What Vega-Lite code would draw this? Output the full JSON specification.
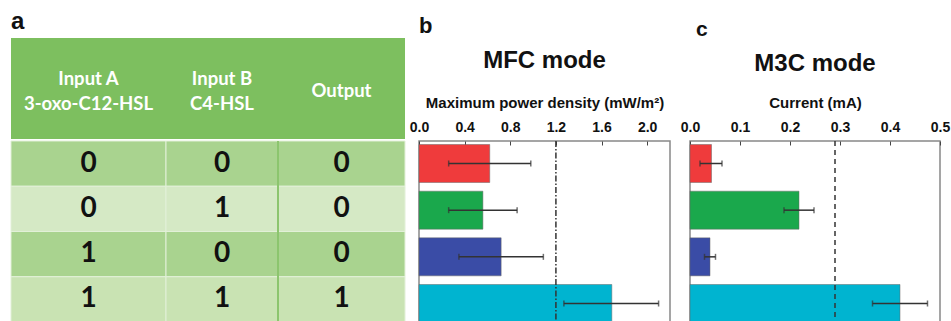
{
  "$schema": "https://vega.github.io/schema/vega-lite/v6.json",
  "background": "white",
  "padding": {"left": 10, "top": 10, "right": 0, "bottom": 0},
  "config": {"view": {"stroke": null}},
  "datasets": {
    "rows": [
      {"cond": "00", "A": 0, "B": 0, "out": 0, "power": 0.62, "pLo": 0.26, "pHi": 0.98, "current": 0.043, "cLo": 0.02, "cHi": 0.064},
      {"cond": "01", "A": 0, "B": 1, "out": 0, "power": 0.56, "pLo": 0.26, "pHi": 0.86, "current": 0.218, "cLo": 0.188, "cHi": 0.248},
      {"cond": "10", "A": 1, "B": 0, "out": 0, "power": 0.72, "pLo": 0.35, "pHi": 1.09, "current": 0.04, "cLo": 0.029, "cHi": 0.051},
      {"cond": "11", "A": 1, "B": 1, "out": 1, "power": 1.69, "pLo": 1.27, "pHi": 2.10, "current": 0.42, "cLo": 0.365, "cHi": 0.475}
    ]
  },
  "columns": 5,
  "bounds": "flush",
  "align": "each",
  "spacing": {"row": 2, "column": 0},
  "concat": [
    {
      "width": 155, "height": 101,
      "title": {"text": "a", "anchor": "start", "frame": "group", "font": "Liberation Sans", "fontSize": 24, "fontWeight": "bold", "color": "#111", "offset": 4},
      "view": {"fill": "#7dbf5f"},
      "data": {"values": [{"h": "Input A\n3-oxo-C12-HSL"}]},
      "mark": {"type": "text", "lineBreak": "\n", "lineHeight": 25, "font": "Lato", "fontSize": 18.5, "fontWeight": "bold", "color": "white", "dy": -9.5},
      "encoding": {"text": {"field": "h"}}
    },
    {
      "width": 112, "height": 101,
      "view": {"fill": "#7dbf5f"},
      "data": {"values": [{"h": "Input B\nC4-HSL"}]},
      "mark": {"type": "text", "lineBreak": "\n", "lineHeight": 25, "font": "Lato", "fontSize": 18.5, "fontWeight": "bold", "color": "white", "dy": -9.5},
      "encoding": {"text": {"field": "h"}}
    },
    {
      "width": 141, "height": 101,
      "data": {"values": [{"h": "Output"}]},
      "encoding": {
        "x": {"datum": "Output", "type": "nominal", "scale": {"type": "band", "paddingInner": 0, "paddingOuter": 0.0551, "align": 0}, "axis": null}
      },
      "layer": [
        {"mark": {"type": "rect", "color": "#7dbf5f"}},
        {"mark": {"type": "text", "font": "Lato", "fontSize": 18.5, "fontWeight": "bold", "color": "white", "dy": 2}, "encoding": {"text": {"field": "h"}}}
      ]
    },
    {
      "width": 271, "height": 46,
      "title": {"text": "b", "anchor": "start", "frame": "group", "font": "Liberation Sans", "fontSize": 22, "fontWeight": "bold", "color": "#111", "offset": 0},
      "data": {"values": [{"t": "MFC mode"}]},
      "mark": {"type": "text", "font": "Liberation Sans", "fontSize": 24, "fontWeight": "bold", "color": "#111", "dx": -10},
      "encoding": {"text": {"field": "t"}}
    },
    {
      "width": 250, "height": 46,
      "title": {"text": "c", "anchor": "start", "frame": "group", "font": "Liberation Sans", "fontSize": 21, "fontWeight": "bold", "color": "#111", "offset": -2, "dx": 6},
      "data": {"values": [{"t": "M3C mode"}]},
      "mark": {"type": "text", "font": "Liberation Sans", "fontSize": 24, "fontWeight": "bold", "color": "#111", "dy": 3},
      "encoding": {"text": {"field": "t"}}
    },
    {
      "width": 155, "height": 181,
      "data": {"name": "rows"},
      "encoding": {
        "y": {"field": "cond", "type": "ordinal", "scale": {"paddingInner": 0, "paddingOuter": 0}, "axis": null}
      },
      "layer": [
        {"mark": {"type": "rect", "stroke": "#e2f0d8", "strokeWidth": 1},
         "encoding": {"fill": {"field": "cond", "type": "nominal", "scale": {"domain": ["00", "01", "10", "11"], "range": ["#a9d38f", "#d5e9c5", "#a9d38f", "#c9e3b3"]}, "legend": null}}},
        {"mark": {"type": "text", "font": "Lato", "fontSize": 28, "fontWeight": "bold", "color": "#111"},
         "encoding": {"text": {"field": "A", "type": "nominal"}}}
      ]
    },
    {
      "width": 112, "height": 181,
      "data": {"name": "rows"},
      "encoding": {
        "y": {"field": "cond", "type": "ordinal", "scale": {"paddingInner": 0, "paddingOuter": 0}, "axis": null}
      },
      "layer": [
        {"mark": {"type": "rect", "stroke": "#e2f0d8", "strokeWidth": 1},
         "encoding": {"fill": {"field": "cond", "type": "nominal", "scale": {"domain": ["00", "01", "10", "11"], "range": ["#a9d38f", "#d5e9c5", "#a9d38f", "#c9e3b3"]}, "legend": null}}},
        {"mark": {"type": "text", "font": "Lato", "fontSize": 28, "fontWeight": "bold", "color": "#111"},
         "encoding": {"text": {"field": "B", "type": "nominal"}}},
        {"mark": {"type": "rule", "color": "#8cc56e", "strokeWidth": 2},
         "encoding": {"x": {"datum": "B", "type": "nominal", "bandPosition": 0, "scale": {"type": "band", "paddingInner": 0, "paddingOuter": 0}, "axis": null}}}
      ]
    },
    {
      "width": 141, "height": 181,
      "data": {"name": "rows"},
      "encoding": {
        "y": {"field": "cond", "type": "ordinal", "scale": {"paddingInner": 0, "paddingOuter": 0}, "axis": null},
        "x": {"datum": "Output", "type": "nominal", "scale": {"type": "band", "paddingInner": 0, "paddingOuter": 0.0551, "align": 0}, "axis": null}
      },
      "layer": [
        {"mark": {"type": "rect", "stroke": "#e2f0d8", "strokeWidth": 1},
         "encoding": {"fill": {"field": "cond", "type": "nominal", "scale": {"domain": ["00", "01", "10", "11"], "range": ["#a9d38f", "#d5e9c5", "#a9d38f", "#c9e3b3"]}, "legend": null}}},
        {"mark": {"type": "text", "font": "Lato", "fontSize": 28, "fontWeight": "bold", "color": "#111"},
         "encoding": {"text": {"field": "out", "type": "nominal"}}},
        {"mark": {"type": "rule", "color": "#8cc56e", "strokeWidth": 2},
         "encoding": {"x": {"datum": "Output", "type": "nominal", "bandPosition": 0}, "y": null}}
      ]
    },
    {
      "width": 251, "height": 185,
      "view": {"stroke": "#888888", "strokeWidth": 1.5},
      "data": {"name": "rows"},
      "encoding": {
        "y": {"field": "cond", "type": "ordinal", "scale": {"paddingInner": 0.186, "paddingOuter": 0.075}, "axis": null}
      },
      "layer": [
        {"mark": {"type": "bar", "stroke": "#666666", "strokeWidth": 0.5},
         "encoding": {
           "x": {"field": "power", "type": "quantitative", "title": "Maximum power density (mW/m²)",
                 "scale": {"domain": [0, 2.2], "nice": false},
                 "axis": {"orient": "top", "values": [0, 0.2, 0.4, 0.6, 0.8, 1.0, 1.2, 1.4, 1.6, 1.8, 2.0],
                          "labelExpr": "round(datum.value*10) % 4 == 0 ? format(datum.value, '.1f') : ''",
                          "grid": false, "domain": false, "tickSize": -4, "tickColor": "#444", "labelPadding": 11,
                          "labelFlush": false, "labelOverlap": false, "labelFont": "Liberation Sans", "labelFontSize": 14,
                          "labelFontWeight": "bold", "labelColor": "#111", "titleFont": "Liberation Sans", "titleFontSize": 15,
                          "titleFontWeight": "bold", "titleColor": "#111", "titlePadding": 10}},
           "color": {"field": "cond", "type": "nominal", "scale": {"domain": ["00", "01", "10", "11"], "range": ["#ef3b3c", "#1aa84c", "#3a4ca6", "#00b4d0"]}, "legend": null}
         }},
        {"mark": {"type": "errorbar", "ticks": {"size": 6, "thickness": 1.5, "color": "#333333"}, "rule": {"strokeWidth": 1.5, "color": "#333333"}},
         "encoding": {
           "x": {"field": "pLo", "type": "quantitative", "title": "Maximum power density (mW/m²)"},
           "x2": {"field": "pHi"}
         }},
        {"data": {"values": [{"thr": 1.2}]},
         "mark": {"type": "rule", "color": "#333333", "strokeWidth": 1.5, "strokeDash": [6, 2, 1.5, 2]},
         "encoding": {"x": {"field": "thr", "type": "quantitative", "title": "Maximum power density (mW/m²)"}, "y": null}}
      ]
    },
    {
      "width": 250, "height": 185,
      "view": {"stroke": "#888888", "strokeWidth": 1.5},
      "data": {"name": "rows"},
      "encoding": {
        "y": {"field": "cond", "type": "ordinal", "scale": {"paddingInner": 0.186, "paddingOuter": 0.075}, "axis": null}
      },
      "layer": [
        {"mark": {"type": "bar", "stroke": "#666666", "strokeWidth": 0.5},
         "encoding": {
           "x": {"field": "current", "type": "quantitative", "title": "Current (mA)",
                 "scale": {"domain": [0, 0.5], "nice": false},
                 "axis": {"orient": "top", "values": [0, 0.05, 0.1, 0.15, 0.2, 0.25, 0.3, 0.35, 0.4, 0.45, 0.5],
                          "labelExpr": "round(datum.value*100) % 10 == 0 ? format(datum.value, '.1f') : ''",
                          "grid": false, "domain": false, "tickSize": -4, "tickColor": "#444", "labelPadding": 11,
                          "labelFlush": false, "labelOverlap": false, "labelFont": "Liberation Sans", "labelFontSize": 14,
                          "labelFontWeight": "bold", "labelColor": "#111", "titleFont": "Liberation Sans", "titleFontSize": 15,
                          "titleFontWeight": "bold", "titleColor": "#111", "titlePadding": 10}},
           "color": {"field": "cond", "type": "nominal", "scale": {"domain": ["00", "01", "10", "11"], "range": ["#ef3b3c", "#1aa84c", "#3a4ca6", "#00b4d0"]}, "legend": null}
         }},
        {"mark": {"type": "errorbar", "ticks": {"size": 6, "thickness": 1.5, "color": "#333333"}, "rule": {"strokeWidth": 1.5, "color": "#333333"}},
         "encoding": {
           "x": {"field": "cLo", "type": "quantitative", "title": "Current (mA)"},
           "x2": {"field": "cHi"}
         }},
        {"data": {"values": [{"thr": 0.29}]},
         "mark": {"type": "rule", "color": "#333333", "strokeWidth": 1.5, "strokeDash": [5, 4]},
         "encoding": {"x": {"field": "thr", "type": "quantitative", "title": "Current (mA)"}, "y": null}}
      ]
    }
  ]
}
